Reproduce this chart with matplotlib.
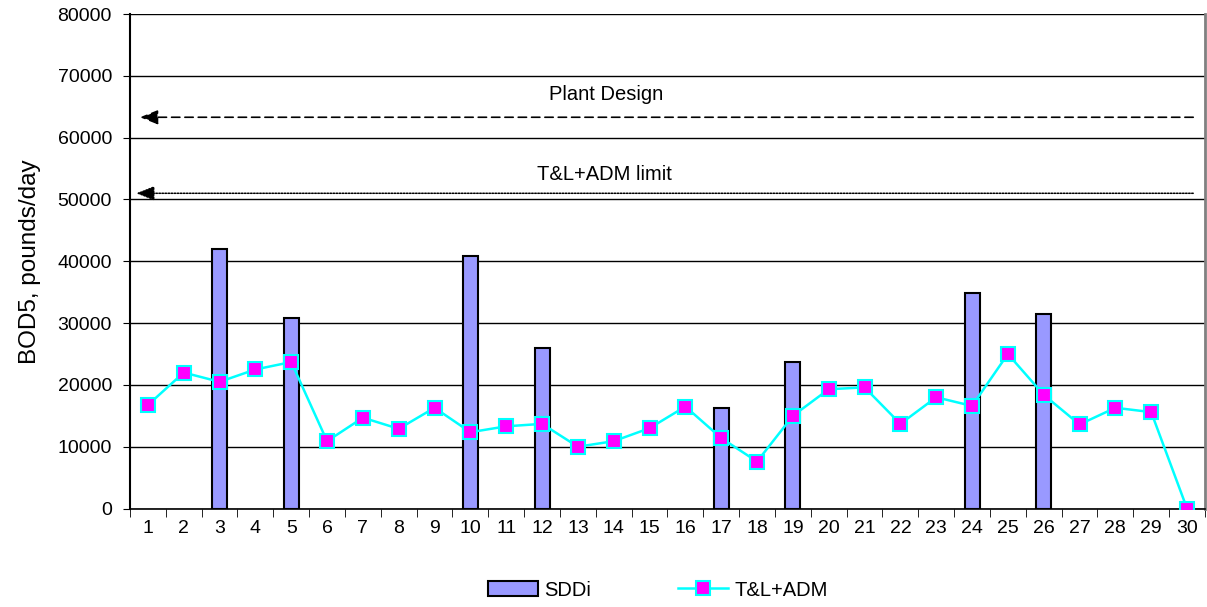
import numpy as np
import matplotlib
matplotlib.use('Agg')
import matplotlib.pyplot as plt

plt.rcParams['font.family'] = ['Liberation Sans', 'DejaVu Sans']

days = list(range(1, 31))
# SDDi bars (only some days)
sddi_days = [3, 5, 10, 12, 17, 19, 24, 26]
sddi_vals = [42000, 30900, 40800, 26000, 16200, 23700, 34800, 31400]
# T&L+ADM line
tl_adm = [16750, 22000, 20500, 22500, 23700, 10900, 14700, 12900, 16300, 12350,
          13300, 13700, 10000, 10900, 13000, 16500, 11400, 7600, 15000, 19300,
          19600, 13700, 18000, 16600, 25000, 18400, 13600, 16300, 15600, 0]
plant_design = 63300
tl_limit = 51000

fig = plt.figure(figsize=(12.07, 6.07), dpi=100)
ax = fig.add_axes([0.1077, 0.1622, 0.8906, 0.8147])

bars = ax.bar(sddi_days, sddi_vals, width=0.42, color='#9999FF', edgecolor='black',
              linewidth=1.5, label='SDDi', zorder=2)
line, = ax.plot(days, tl_adm, color='#00FFFF', linewidth=1.8, marker='s', markersize=9.5,
                markerfacecolor='#FF00FF', markeredgecolor='#00FFFF', markeredgewidth=1.5,
                label='T&L+ADM', zorder=3)

# reference lines, arrow pointing left
head = '-|>,head_length=0.55,head_width=0.22'
ax.annotate('', xy=(0.7, plant_design), xytext=(30.25, plant_design),
            arrowprops=dict(arrowstyle=head, color='black', lw=1.2,
                            linestyle=(0, (5, 3)), mutation_scale=20))
ax.annotate('', xy=(0.6, tl_limit), xytext=(30.25, tl_limit),
            arrowprops=dict(arrowstyle=head, color='black', lw=1.1,
                            linestyle=(0, (1, 1)), mutation_scale=20))
ax.text(13.8, 67000, 'Plant Design', ha='center', va='center', fontsize=14.5)
ax.text(13.75, 54100, 'T&L+ADM limit', ha='center', va='center', fontsize=14.5)

ax.set_xlim(0.5, 30.5)
ax.set_ylim(0, 80000)
ax.set_yticks(np.arange(0, 80001, 10000))
ax.yaxis.grid(True, color='black', linewidth=1)
ax.set_axisbelow(True)
ax.set_xticks(days)
ax.set_xticks(np.arange(0.5, 31, 1), minor=True)
ax.tick_params(axis='x', which='major', length=0, labelsize=14, pad=8)
ax.tick_params(axis='x', which='minor', length=6, direction='out')
ax.tick_params(axis='y', length=5, direction='out', labelsize=14, pad=8)
ax.set_ylabel('BOD5, pounds/day', fontsize=17.5, labelpad=12)

ax.spines['top'].set_visible(False)
ax.spines['right'].set_color('#808080')
ax.spines['right'].set_linewidth(2)
ax.spines['left'].set_linewidth(1.5)
ax.spines['bottom'].set_linewidth(1.2)

fig.legend([bars, line], ['SDDi', 'T&L+ADM'], loc='center',
           bbox_to_anchor=(0.545, 0.028), ncol=2, frameon=False,
           fontsize=14.5, columnspacing=4.3, handlelength=2.5, handletextpad=0.3)

fig.savefig('out.png', dpi=100)
